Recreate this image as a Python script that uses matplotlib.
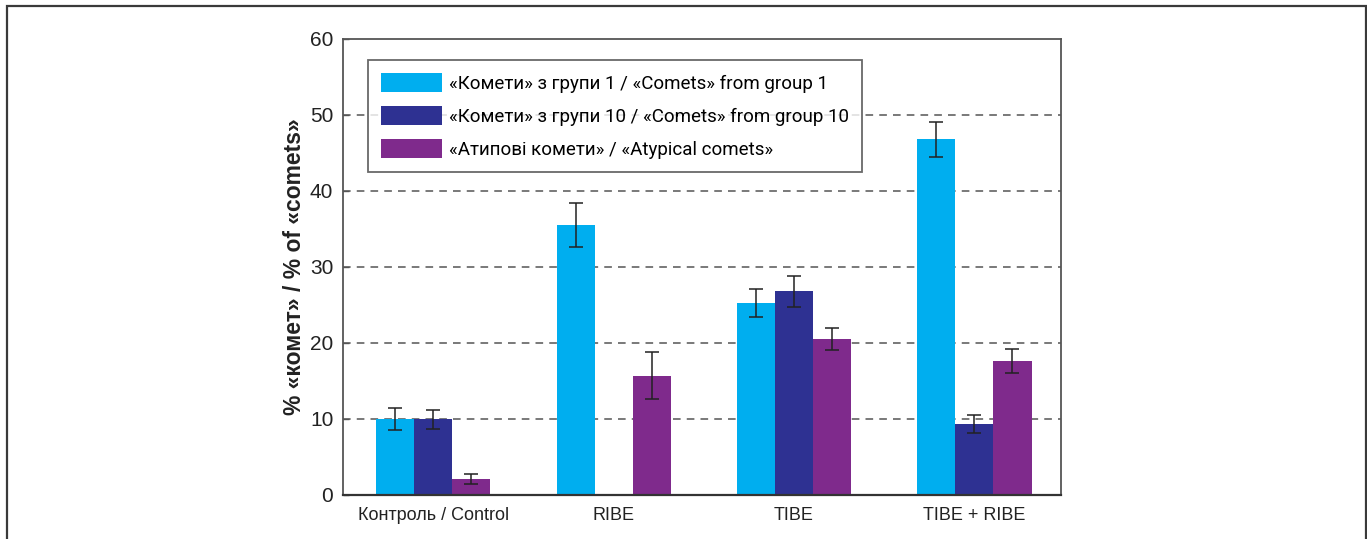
import matplotlib
matplotlib.use("Agg")
import matplotlib.pyplot as plt
from matplotlib import font_manager
from matplotlib.patches import Rectangle
import numpy as np

# --- data -------------------------------------------------------------
categories = ["Контроль / Control", "RIBE", "TIBE", "TIBE + RIBE"]
series_labels = [
    "«Комети» з групи 1 / «Comets» from group 1",
    "«Комети» з групи 10 / «Comets» from group 10",
    "«Атипові комети» / «Atypical comets»",
]
group1 = [10.0, 35.5, 25.3, 46.8]
group1_err = [1.4, 2.9, 1.85, 2.3]
group10 = [10.0, np.nan, 26.8, 9.3]
group10_err = [1.25, np.nan, 2.0, 1.2]
atypical = [2.1, 15.7, 20.5, 17.6]
atypical_err = [0.6, 3.1, 1.45, 1.6]

colors = ["#00AEEF", "#2E3192", "#7F2A8C"]
y_ticks = [0, 10, 20, 30, 40, 50, 60]

# --- fonts ------------------------------------------------------------
available = {f.name for f in font_manager.fontManager.ttflist}
narrow = "Liberation Sans Narrow" if "Liberation Sans Narrow" in available else "Liberation Sans"
legend_font = "Roboto" if "Roboto" in available else "DejaVu Sans"

W, H = 1367, 539
fig = plt.figure(figsize=(W / 100, H / 100), dpi=100)

# outer frame of the figure panel
fig.patches.append(Rectangle((7 / W, -0.05), (1365.5 - 7) / W, 1.05 - 6 / H,
                             transform=fig.transFigure, fill=False,
                             edgecolor="#3a3a3a", linewidth=1.6))

ax = fig.add_axes([343 / W, 1 - 495 / H, (1061 - 343) / W, (495 - 39) / H])

x = np.arange(len(categories))
width = 0.211
series = [(group1, group1_err), (group10, group10_err), (atypical, atypical_err)]
for i, ((vals, errs), col, lab) in enumerate(zip(series, colors, series_labels)):
    pos = x + (i - 1) * width
    ax.bar(pos, vals, width=width, color=col, label=lab, zorder=2)
    ax.errorbar(pos, vals, yerr=errs, fmt="none", ecolor="#222222",
                elinewidth=1.1, capsize=5, capthick=1.1, zorder=3)

ax.set_xlim(-0.5, len(categories) - 0.52)
ax.set_ylim(0, 60)
ax.set_yticks(y_ticks)
ax.set_yticklabels([str(t) for t in y_ticks], fontsize=15, family=narrow, color="#222222")
ax.set_xticks(x)
ax.set_xticklabels(categories, fontsize=13, family=narrow, color="#222222")
ax.tick_params(axis="x", length=0, pad=9)
ax.tick_params(axis="y", direction="in", length=4, width=1, color="#555555", pad=7)

for t in [10, 20, 30, 40, 50]:
    ax.axhline(t, color="#555555", linewidth=1.1, linestyle=(0, (5, 4)), zorder=1)

for side in ["left", "top", "right"]:
    ax.spines[side].set_color("#555555")
    ax.spines[side].set_linewidth(1.3)
ax.spines["bottom"].set_color("#333333")
ax.spines["bottom"].set_linewidth(1.6)

ax.set_ylabel("% «комет» / % of «comets»", fontsize=16.5, fontweight="bold",
              family="Liberation Sans", color="#222222", labelpad=3)

leg = ax.legend(loc="upper left", bbox_to_anchor=((368 - 343) / 718, (495 - 60) / 456),
                frameon=True, fancybox=False, edgecolor="#444444",
                prop={"family": legend_font, "size": 13.5},
                handlelength=3.25, handleheight=1.15, handletextpad=0.35,
                labelspacing=0.72, borderpad=0.7, borderaxespad=0)
leg.get_frame().set_linewidth(1.3)
leg.set_zorder(5)

fig.savefig("out.png", dpi=100)
